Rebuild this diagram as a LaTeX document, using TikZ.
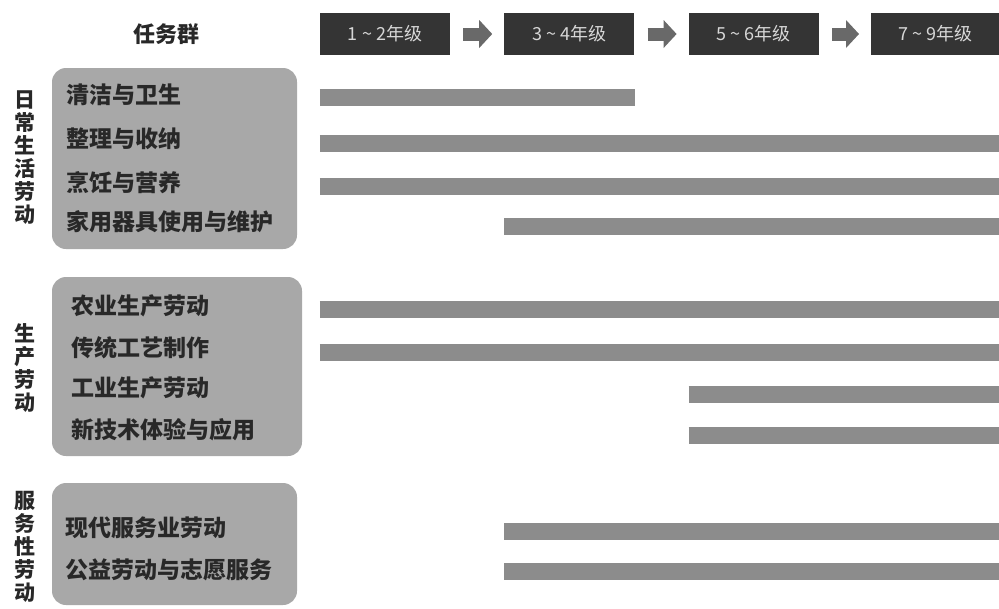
\documentclass[tikz,border=0pt]{standalone}
\usepackage{fontspec}
\setmainfont{Noto Sans CJK SC}
\usepackage{xcolor}
\usetikzlibrary{arrows.meta, positioning}

\definecolor{headgray}{RGB}{52,52,52}
\definecolor{headtext}{RGB}{215,215,215}
\definecolor{arrowgray}{RGB}{105,105,105}
\definecolor{boxgray}{RGB}{168,168,168}
\definecolor{bargray}{RGB}{140,140,140}
\definecolor{inkgray}{RGB}{40,40,40}

\begin{document}
\begin{tikzpicture}[x=1pt, y=-1pt, every node/.style={inner sep=0pt, text=inkgray}]
    \tikzstyle{stage} = [rectangle, fill=headgray, minimum width=130, minimum height=42, text=headtext, font=\fontsize{18}{18}\selectfont]
    \tikzstyle{stagearrow} = [draw=arrowgray, line width=13pt, shorten <=13pt, shorten >=12pt, -{Triangle[length=13pt, width=28pt, line width=0pt]}]
    \tikzstyle{group} = [rectangle, rounded corners=14pt, fill=boxgray]
    \tikzstyle{task} = [anchor=west, font=\bfseries\fontsize{23}{23}\selectfont]
    \tikzstyle{field} = [align=center, font=\bfseries\fontsize{21}{23}\selectfont]
    \tikzstyle{bar} = [draw=bargray, line width=17pt]

    \useasboundingbox (0,0) rectangle (999,608);

    % grade stages
    \node[font=\bfseries\fontsize{22}{22}\selectfont] (title) at (166,34) {任务群};
    \node[stage] (g12) at (385,34) {1 \textasciitilde{} 2年级};
    \node[stage, right=54pt of g12] (g34) {3 \textasciitilde{} 4年级};
    \node[stage, right=54pt of g34] (g56) {5 \textasciitilde{} 6年级};
    \node[stage, right=52pt of g56, minimum width=129] (g79) {7 \textasciitilde{} 9年级};

    \draw[stagearrow] (g12) -- (g34);
    \draw[stagearrow] (g34) -- (g56);
    \draw[stagearrow] (g56) -- (g79);

    % task groups
    \node[group, minimum width=245, minimum height=181] (daily) at (174.5,158.5) {};
    \node[group, minimum width=250, minimum height=179] (produce) at (177,366.5) {};
    \node[group, minimum width=245, minimum height=122] (service) at (174.5,544) {};

    \node[field] (fdaily) at (25,158) {日\\常\\生\\活\\劳\\动};
    \node[field] (fproduce) at (25,368) {生\\产\\劳\\动};
    \node[field] (fservice) at (25,547) {服\\务\\性\\劳\\动};

    \node[task] (t1) at (66,95) {清洁与卫生};
    \node[task] (t2) at (66,139) {整理与收纳};
    \node[task] (t3) at (66,183) {烹饪与营养};
    \node[task] (t4) at (66,222) {家用器具使用与维护};
    \node[task] (t5) at (71,306) {农业生产劳动};
    \node[task] (t6) at (71,348) {传统工艺制作};
    \node[task] (t7) at (71,388) {工业生产劳动};
    \node[task] (t8) at (71,430) {新技术体验与应用};
    \node[task] (t9) at (65,528) {现代服务业劳动};
    \node[task] (t10) at (65,570) {公益劳动与志愿服务};

    % stage bars
    \draw[bar] (g12.west |- 0,97.5) -- (g34.east |- 0,97.5);
    \draw[bar] (g12.west |- 0,143.5) -- (g79.east |- 0,143.5);
    \draw[bar] (g12.west |- 0,186) -- (g79.east |- 0,186);
    \draw[bar] (g34.west |- 0,226) -- (g79.east |- 0,226);
    \draw[bar] (g12.west |- 0,309.5) -- (g79.east |- 0,309.5);
    \draw[bar] (g12.west |- 0,352) -- (g79.east |- 0,352);
    \draw[bar] (g56.west |- 0,394) -- (g79.east |- 0,394);
    \draw[bar] (g56.west |- 0,435.5) -- (g79.east |- 0,435.5);
    \draw[bar] (g34.west |- 0,531.5) -- (g79.east |- 0,531.5);
    \draw[bar] (g34.west |- 0,571) -- (g79.east |- 0,571);
\end{tikzpicture}
\end{document}
